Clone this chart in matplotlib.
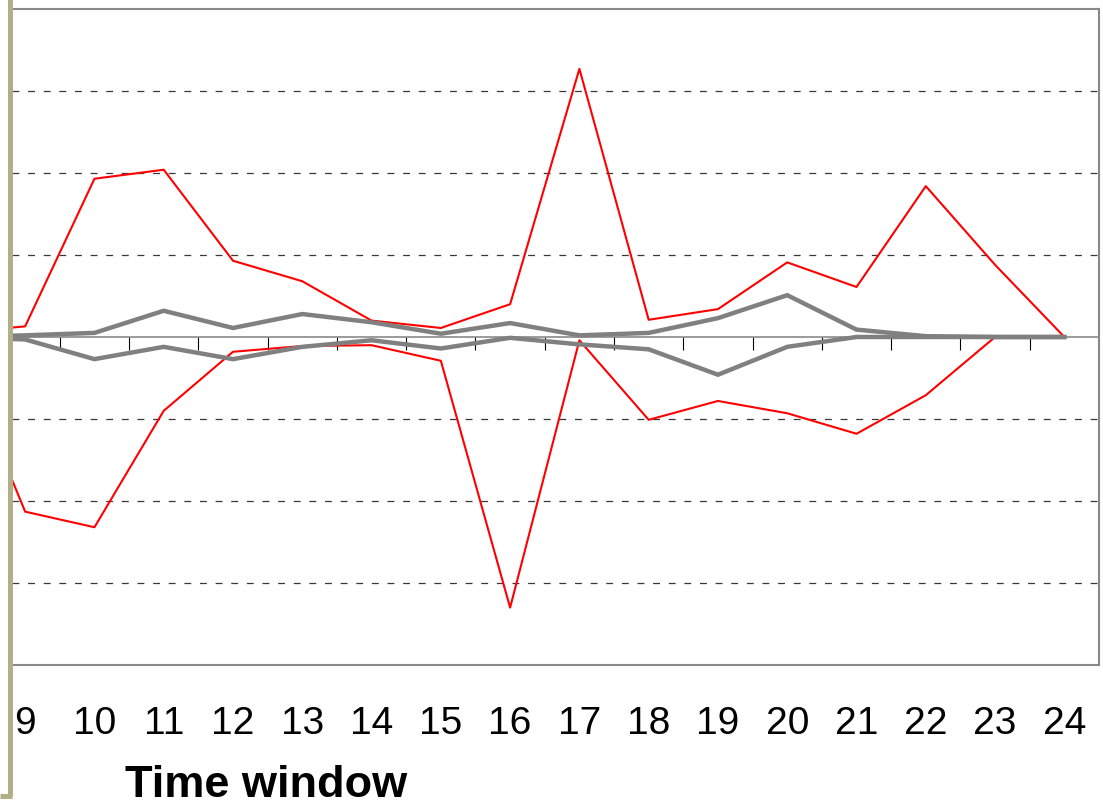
import matplotlib
matplotlib.use("Agg")
import matplotlib.pyplot as plt
import numpy as np
from matplotlib.lines import Line2D

# ---- data ----
windows = [8, 9, 10, 11, 12, 13, 14, 15, 16, 17, 18, 19, 20, 21, 22, 23, 24]
tick_labels = [str(w) for w in windows]
red_upper = [0.05, 0.13, 1.93, 2.04, 0.93, 0.68, 0.20, 0.11, 0.40, 3.27, 0.21, 0.34, 0.91, 0.61, 1.84, 0.88, 0.0]
red_lower = [-0.08, -2.13, -2.32, -0.90, -0.18, -0.11, -0.10, -0.29, -3.30, -0.04, -1.01, -0.78, -0.93, -1.18, -0.71, 0.0, 0.0]
gray_upper = [0.0, 0.02, 0.05, 0.32, 0.11, 0.28, 0.18, 0.04, 0.17, 0.02, 0.05, 0.23, 0.51, 0.09, 0.01, 0.0, 0.0]
gray_lower = [0.0, -0.03, -0.27, -0.12, -0.27, -0.12, -0.04, -0.14, -0.01, -0.09, -0.15, -0.46, -0.12, 0.0, 0.0, 0.0, 0.0]
y_grid = [-3, -2, -1, 1, 2, 3]

plt.rcParams['font.family'] = ['Liberation Sans', 'DejaVu Sans']

W, H = 1103, 804
fig = plt.figure(figsize=(W / 100, H / 100), dpi=100)
left, right, top, bottom = 12, 1099, 10, 666
ax = fig.add_axes([left / W, 1 - bottom / H, (right - left) / W, (bottom - top) / H])

x = np.array(windows)
ax.set_xlim(8.81, 24.5)
ax.set_ylim(-4, 4)

# gridlines
for g in y_grid:
    ax.axhline(g, color='#383838', lw=0.9, linestyle=(0, (5.5, 7.0)), zorder=1)

# lines
ax.plot(x, red_upper, color='#ff0000', lw=1.5, zorder=3)
ax.plot(x, red_lower, color='#ff0000', lw=1.5, zorder=3)
ax.plot(x, gray_upper, color='#808080', lw=3.2, zorder=4, solid_joinstyle='miter')
ax.plot(x, gray_lower, color='#808080', lw=3.2, zorder=4, solid_joinstyle='miter')

# box spines
for s in ['top', 'right', 'bottom']:
    ax.spines[s].set_color('#888888')
    ax.spines[s].set_linewidth(1.5)
ax.spines['left'].set_visible(False)
ax.set_yticks([])

# category labels at bottom of box
ax.set_xticks(x[1:])
ax.set_xticklabels(tick_labels[1:], fontsize=28)
ax.tick_params(axis='x', length=0, pad=29)

# zero axis with between-category tick marks
sec = ax.secondary_xaxis(0.49999)
for s in ['top', 'bottom']:
    sec.spines[s].set_color('#808080')
    sec.spines[s].set_linewidth(1.1)
mids = (x[:-1] + x[1:]) / 2
sec.set_xticks(mids)
sec.set_xticklabels([''] * len(mids))
sec.tick_params(axis='x', direction='out', length=9, width=0.8, color='black')

# axis title
fig.text(266 / W, 1 - 797 / H, 'Time window', fontsize=32.5, fontweight='bold',
         ha='center', va='baseline')

# beige bracket border on the left
beige = '#b2ae88'
fig.add_artist(Line2D([9.5 / W, 9.5 / W], [1 - 0 / H, 1 - 797 / H], transform=fig.transFigure,
                      color=beige, lw=3.6, solid_capstyle='butt'))
fig.add_artist(Line2D([0, 12 / W], [1 - 797 / H, 1 - 797 / H], transform=fig.transFigure,
                      color=beige, lw=3.6, solid_capstyle='butt'))

fig.savefig('out.png', dpi=100)
